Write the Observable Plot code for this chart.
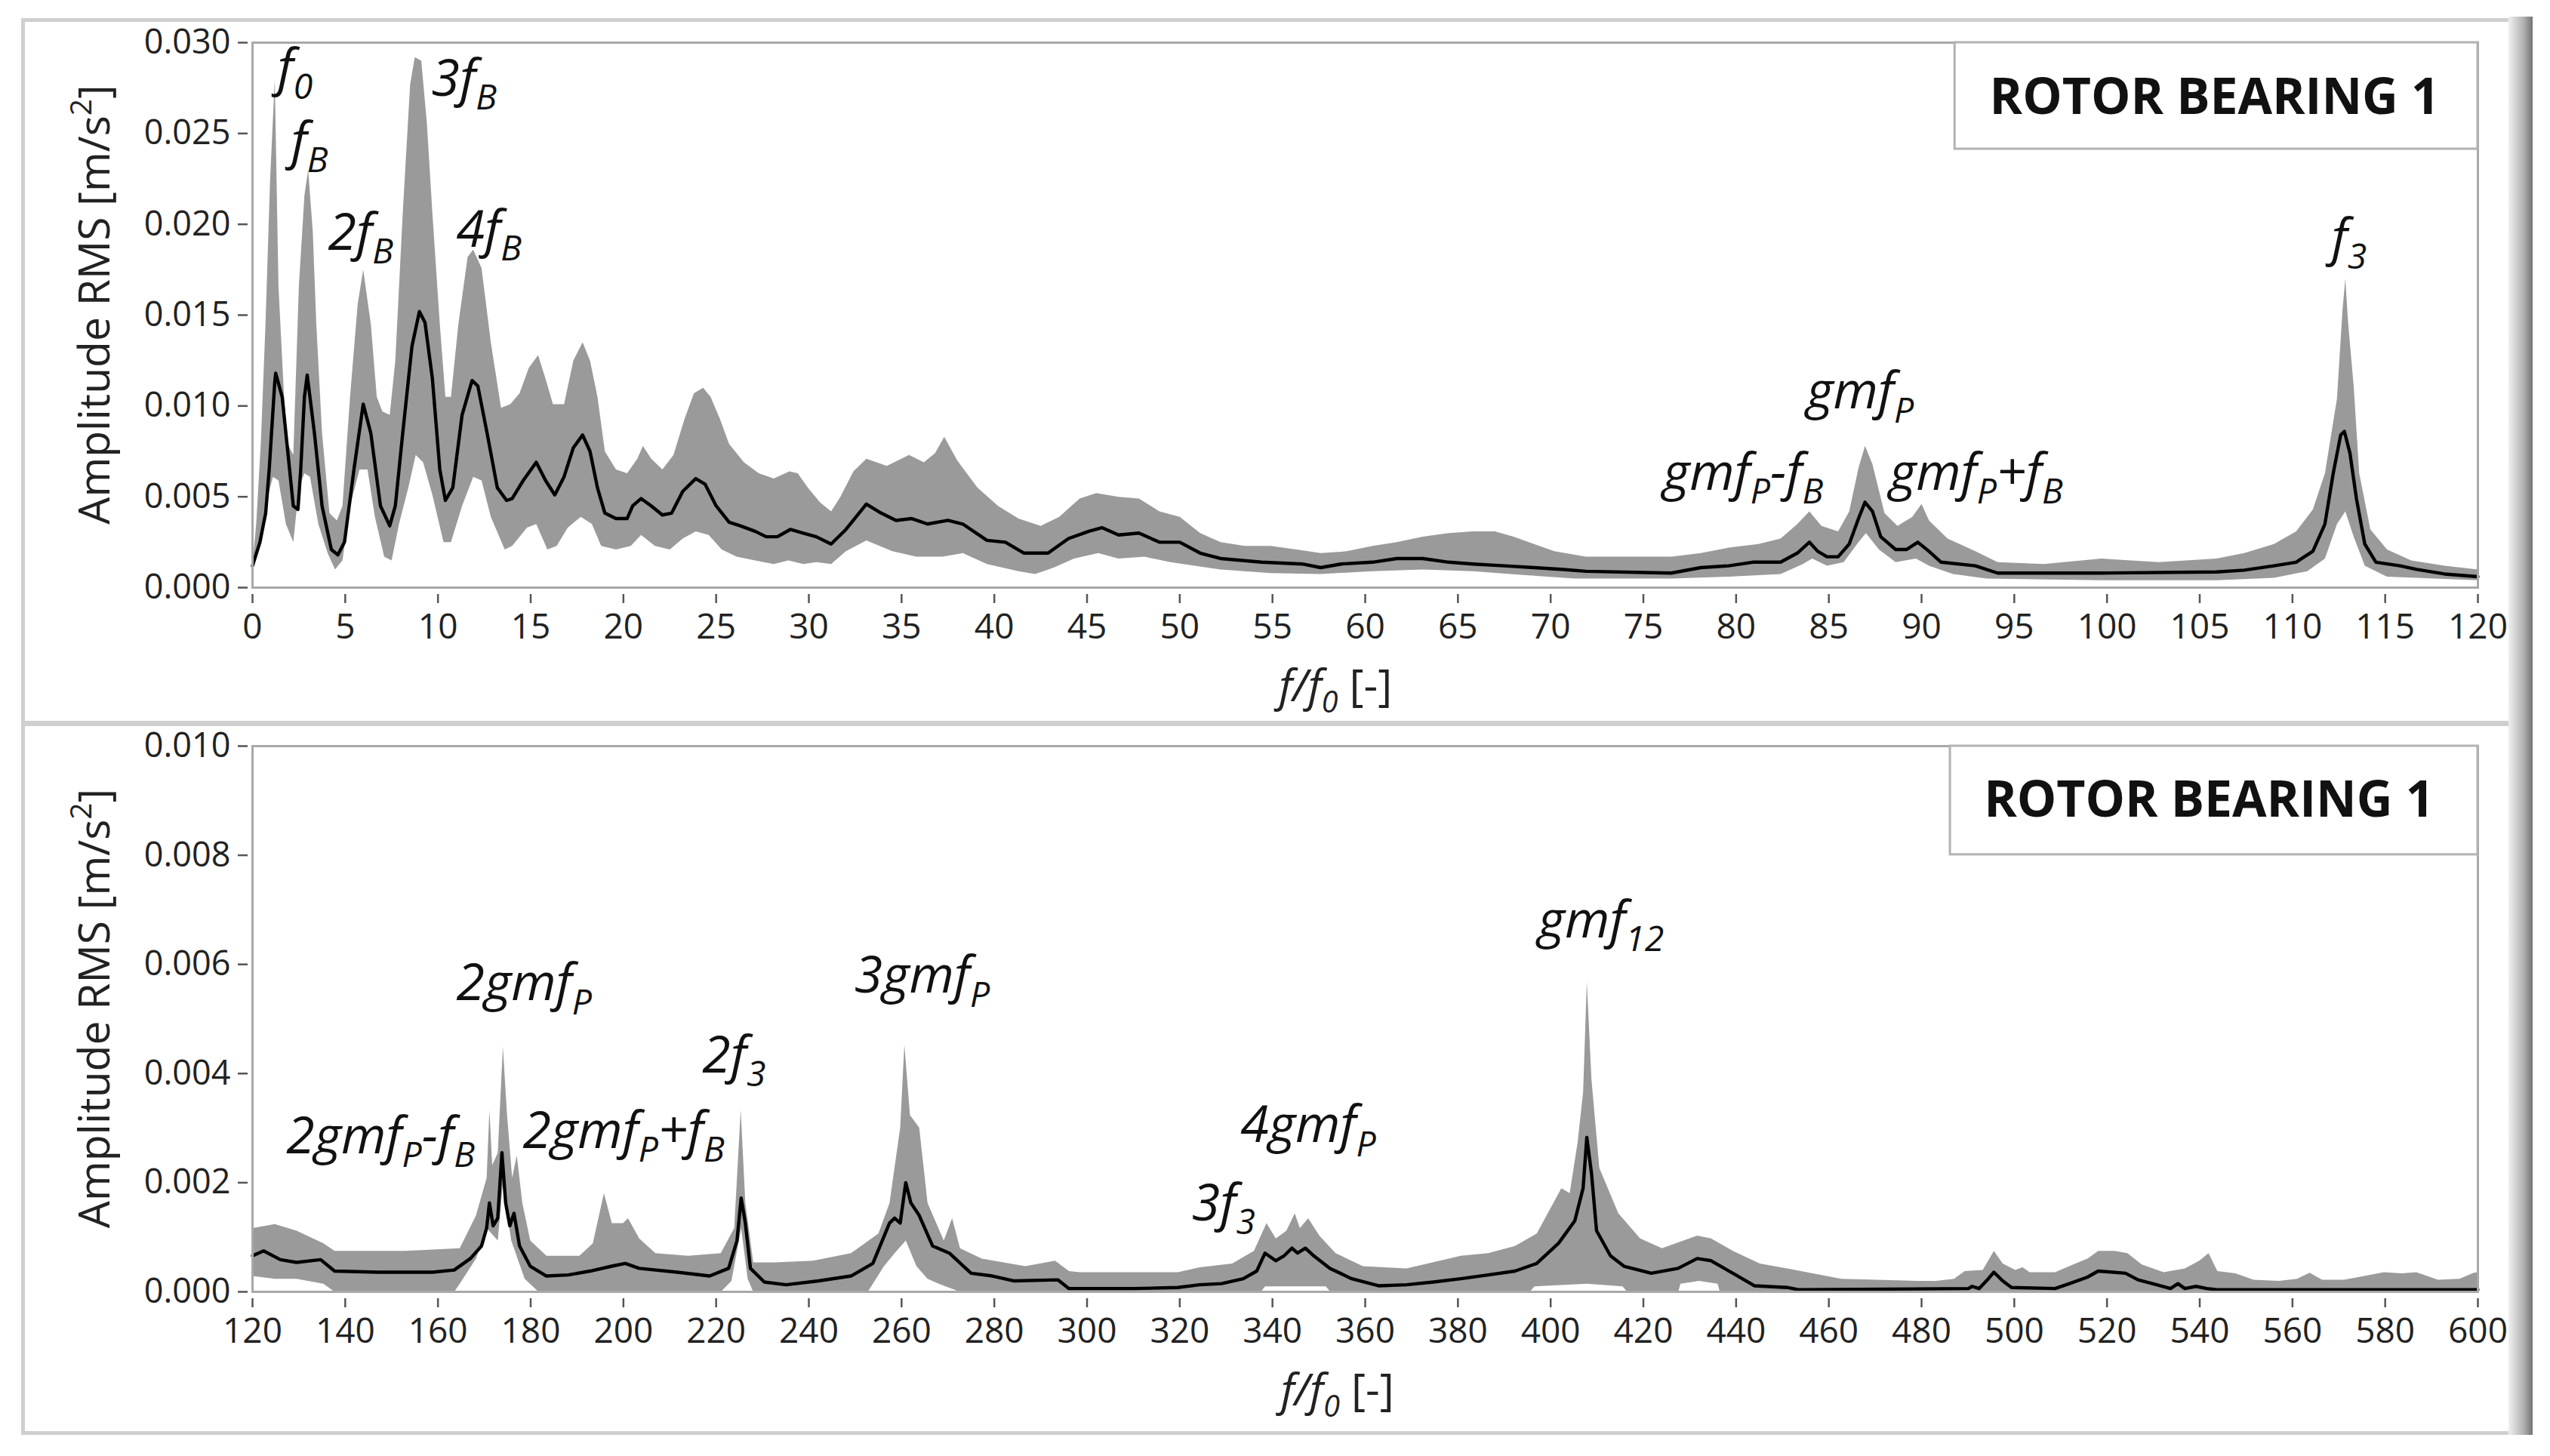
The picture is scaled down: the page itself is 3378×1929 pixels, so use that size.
<!DOCTYPE html>
<html>
<head>
<meta charset="utf-8">
<script src="https://cdn.jsdelivr.net/npm/d3@7"></script>
<script src="https://cdn.jsdelivr.net/npm/@observablehq/plot@0.6"></script>
<style>
  html, body { margin: 0; padding: 0; background: #fff; }
  #root { position: relative; width: 3378px; height: 1929px; overflow: hidden; background: #fff; font-family: "Open Sans", sans-serif; }
  .panel { position: absolute; box-sizing: border-box; border: 5px solid #cfcfcf; border-right: none; }
  .shadow { position: absolute; left: 3323px; top: 22px; width: 32px; height: 1879px;
            background: linear-gradient(to right, #f0f0f0, #b4b4b4 60%, #747474); }
  .chart { position: absolute; left: 0; }
</style>
</head>
<body>
<div id="root">
  <div class="panel" style="left:28px; top:24px; width:3300px; height:936px;"></div>
  <div class="panel" style="left:28px; top:957px; width:3300px; height:944px;"></div>
  <div class="shadow"></div>
  <div id="top" class="chart" style="top:0px;"></div>
  <div id="bottom" class="chart" style="top:950px;"></div>
</div>
<script>
// ---------------- DATA ----------------
// Top panel: f/f0 from 0 to 120
const topMeanF = [0,0.4,0.71,0.9,1.2,1.25,1.6,2.0,2.2,2.45,2.6,2.8,2.95,3.34,3.75,4.25,4.6,4.96,5.47,5.97,6.38,6.9,7.4,7.7,8.1,8.6,9.0,9.3,9.7,10.1,10.4,10.8,11.3,11.84,12.15,12.65,13.2,13.7,14.0,14.6,15.3,15.8,16.3,16.8,17.3,17.8,18.2,18.6,19.0,19.6,20.2,20.5,20.95,21.5,22.1,22.6,23.2,23.9,24.4,25.0,25.7,26.3,27.1,27.7,28.3,29.0,29.7,30.4,31.2,32.0,33.1,33.9,34.7,35.55,36.4,37.5,38.3,39.6,40.6,41.6,42.9,44.0,45.1,45.8,46.7,47.8,48.9,50.0,51.1,52.2,54.4,56.6,57.6,58.7,60.4,61.7,63.1,64.5,65.8,67.5,69.1,70.7,71.9,76.5,78.1,79.6,80.9,82.4,83.3,83.95,84.4,84.9,85.5,86.1,86.6,86.95,87.35,87.8,88.6,89.2,89.8,90.4,91.05,92.9,94.1,99.7,105.9,107.4,109.0,110.2,111.1,111.75,112.2,112.6,112.8,113.1,113.45,113.9,114.5,115.8,116.7,118.2,120];
const topMeanA = [0.0012,0.0025,0.0041,0.0065,0.0113,0.0118,0.0105,0.0065,0.0045,0.0043,0.0065,0.0105,0.0117,0.0085,0.0045,0.0021,0.0018,0.0025,0.0065,0.0101,0.0085,0.0045,0.0034,0.0045,0.0085,0.0133,0.0152,0.0146,0.0115,0.0065,0.0048,0.0055,0.0095,0.0114,0.0111,0.0085,0.0055,0.0048,0.0049,0.0059,0.0069,0.0059,0.0051,0.0061,0.0077,0.0084,0.0075,0.0055,0.0041,0.0038,0.0038,0.0045,0.0049,0.0045,0.004,0.0041,0.0053,0.006,0.0057,0.0045,0.0036,0.0034,0.0031,0.0028,0.0028,0.0032,0.003,0.0028,0.0024,0.0032,0.0046,0.0041,0.0037,0.0038,0.0035,0.0037,0.0035,0.0026,0.0025,0.0019,0.0019,0.0027,0.0031,0.0033,0.0029,0.003,0.0025,0.0025,0.0019,0.0016,0.0014,0.0013,0.0011,0.0013,0.0014,0.0016,0.0016,0.0014,0.0013,0.0012,0.0011,0.001,0.0009,0.0008,0.0011,0.0012,0.0014,0.0014,0.0019,0.0025,0.002,0.0017,0.0017,0.0024,0.0038,0.0047,0.0042,0.0028,0.0021,0.0021,0.0025,0.002,0.0014,0.0012,0.0008,0.0008,0.00086,0.00096,0.0012,0.0014,0.002,0.0035,0.0063,0.0084,0.0086,0.0074,0.0049,0.0024,0.0014,0.0012,0.001,0.00075,0.0006];

const topHiF = [0,0.2,0.45,0.7,0.95,1.2,1.4,1.7,1.9,2.2,2.5,2.8,3.0,3.25,3.44,3.75,4.15,4.55,4.85,5.26,5.67,5.97,6.38,6.7,7.0,7.4,7.7,8.1,8.5,8.75,9.1,9.4,9.7,10.1,10.4,10.7,11.1,11.6,11.9,12.35,12.85,13.4,13.9,14.4,14.9,15.4,15.8,16.2,16.8,17.3,17.8,18.2,18.6,19.0,19.6,20.2,20.75,21.05,21.5,22.1,22.7,23.3,23.8,24.3,24.7,25.2,25.7,26.5,27.3,28.1,28.95,29.4,29.95,30.6,31.2,31.7,32.4,33.1,34.2,35.4,36.2,36.8,37.3,38.0,39.1,40.2,41.3,42.5,43.5,44.6,45.5,46.7,47.8,48.9,50.0,51.1,52.2,53.5,54.9,56.3,57.6,59.0,60.4,61.7,63.1,64.5,65.8,67.0,68.0,69.1,70.2,71.9,76.5,78.1,79.6,81.2,82.4,83.3,83.95,84.6,85.5,86.1,86.6,86.95,87.35,88.0,88.7,89.5,90.0,90.4,91.4,92.9,94.1,96.6,99.7,102.8,105.9,107.4,109.0,110.2,111.1,111.75,112.4,112.7,112.85,113.0,113.3,113.6,114.2,115.1,116.4,118.2,120];
const topHiA = [0.0013,0.0035,0.008,0.0145,0.0225,0.028,0.0166,0.0105,0.0079,0.0073,0.0166,0.0216,0.023,0.0196,0.0145,0.0085,0.0041,0.0037,0.0045,0.0105,0.0156,0.0175,0.0145,0.0105,0.0097,0.0095,0.0125,0.0206,0.0277,0.0292,0.029,0.0256,0.0206,0.0145,0.0105,0.0105,0.0145,0.0182,0.0186,0.0176,0.0135,0.0099,0.0101,0.0107,0.0121,0.0128,0.0115,0.0101,0.0101,0.0125,0.0135,0.0125,0.0105,0.0075,0.0065,0.0063,0.0071,0.0078,0.0071,0.0065,0.0073,0.0093,0.0107,0.011,0.0105,0.0093,0.0079,0.0069,0.0063,0.006,0.0064,0.0063,0.0055,0.0047,0.0042,0.005,0.0064,0.0071,0.0067,0.0073,0.0069,0.0074,0.0083,0.007,0.0055,0.0045,0.0038,0.0034,0.0039,0.0049,0.0052,0.005,0.0049,0.0042,0.0039,0.003,0.0025,0.0023,0.0023,0.0021,0.0019,0.002,0.0023,0.0025,0.0028,0.003,0.0031,0.0031,0.0028,0.0024,0.002,0.0017,0.0017,0.0019,0.0022,0.0024,0.0027,0.0035,0.0042,0.0034,0.0031,0.0042,0.0066,0.0078,0.0068,0.0041,0.0034,0.0039,0.0046,0.0037,0.0027,0.002,0.0014,0.0013,0.0016,0.0014,0.0016,0.0019,0.0024,0.0031,0.0043,0.0063,0.0104,0.0153,0.017,0.0146,0.0111,0.0063,0.0032,0.0021,0.0015,0.0012,0.001];

const topLoF = [0,0.3,0.7,1.1,1.4,1.8,2.2,2.5,2.8,3.1,3.55,4.05,4.45,4.85,5.26,5.77,6.2,6.6,7.1,7.5,7.9,8.4,8.8,9.2,9.7,10.3,10.7,11.3,11.9,12.35,12.85,13.6,14.0,14.8,15.3,15.9,16.4,17.0,17.7,18.3,18.8,19.6,20.4,20.95,21.7,22.5,23.2,23.9,24.6,25.3,26.1,27.1,28.1,28.9,29.7,30.4,31.2,32.0,33.1,34.5,35.8,37.2,38.3,39.6,41.3,42.2,43.2,44.3,45.6,46.7,48.1,49.5,50.8,52.2,54.9,57.6,60.4,63.1,65.8,68.5,71.3,76.5,79.6,82.4,83.6,84.1,84.9,85.8,86.6,87.0,87.7,88.6,89.7,90.4,91.7,93.5,99.7,105.9,109.0,110.8,111.75,112.4,112.85,113.3,113.9,115.1,120];
const topLoA = [0.0011,0.002,0.0045,0.0061,0.0059,0.0035,0.0025,0.0055,0.0063,0.0061,0.0035,0.0019,0.001,0.0015,0.0045,0.0065,0.0065,0.0039,0.0017,0.0015,0.0035,0.0055,0.0073,0.0069,0.0051,0.0025,0.0025,0.0045,0.0061,0.0059,0.0039,0.0021,0.0023,0.0033,0.0035,0.0021,0.0023,0.0033,0.0039,0.0035,0.0023,0.0021,0.0023,0.0029,0.0023,0.0021,0.0027,0.0031,0.0029,0.0021,0.0017,0.0015,0.0013,0.0015,0.0013,0.0014,0.0013,0.002,0.0026,0.002,0.0017,0.0017,0.0019,0.0013,0.0009,0.00075,0.0011,0.0016,0.0019,0.0016,0.0017,0.0014,0.0012,0.001,0.0008,0.00075,0.0009,0.001,0.0009,0.0007,0.0005,0.0005,0.0006,0.00075,0.0013,0.0016,0.0012,0.0014,0.0025,0.003,0.0021,0.0014,0.0016,0.0012,0.00075,0.0005,0.0004,0.0004,0.00054,0.0009,0.0016,0.0035,0.0042,0.0028,0.0012,0.0006,0.0004];

// Bottom panel: f/f0 from 120 to 600
const botMeanF = [120,122.4,126.0,129.5,134.7,137.7,147.1,158.8,163.5,167.0,169.4,170.5,171.1,171.9,172.9,173.8,174.6,175.5,176.4,177.6,179.9,183.4,188.1,192.8,197.5,200.4,203.4,211.6,218.6,222.7,224.5,225.4,226.3,227.4,230.4,235.1,242.1,249.1,253.8,257.4,258.5,259.7,260.9,262.0,263.8,266.7,270.3,275.0,279.6,284.3,293.7,296.1,298.5,310.2,319.6,324.3,329.0,333.7,336.6,338.4,340.7,342.5,344.2,345.4,347.1,348.9,352.4,357.1,363.0,368.9,374.7,380.6,386.5,392.3,397.0,401.7,405.2,407.0,407.8,408.8,409.9,412.9,415.8,421.7,427.5,431.6,434.6,439.3,444.0,451.0,453.4,490.1,490.9,492.4,494.4,495.6,497.5,499.4,508.8,511.9,515.8,518.1,521.3,524.0,526.7,529.8,533.7,535.3,536.8,539.2,541.5,543.8,600];
const botMeanA = [0.00066,0.00075,0.00059,0.00054,0.00059,0.00038,0.00036,0.00036,0.0004,0.00061,0.00084,0.00117,0.00163,0.00121,0.00135,0.00255,0.00163,0.00121,0.00144,0.00084,0.00047,0.00029,0.00031,0.00038,0.00047,0.00052,0.00043,0.00036,0.00029,0.00043,0.00094,0.00172,0.00126,0.00043,0.00018,0.00013,0.0002,0.00029,0.00052,0.00126,0.00135,0.00126,0.002,0.00163,0.0014,0.00084,0.00071,0.00034,0.00029,0.0002,0.00022,0.00006,0.00006,0.00006,0.00008,0.00013,0.00015,0.00024,0.00038,0.00071,0.00057,0.00066,0.0008,0.00071,0.0008,0.00066,0.00043,0.00024,0.00011,0.00013,0.00018,0.00024,0.00031,0.00038,0.00052,0.00089,0.0013,0.0019,0.00283,0.00218,0.00112,0.00066,0.00047,0.00034,0.00043,0.00061,0.00057,0.00034,0.00011,0.00008,0.00004,0.00006,0.0001,0.00006,0.00024,0.00036,0.0002,0.00008,0.00006,0.00015,0.00027,0.00038,0.00036,0.00034,0.00022,0.00015,0.00006,0.00015,0.00006,0.0001,0.00006,0.00004,0.00004];

const botHiF = [120,124.8,129.5,135.3,137.7,152.9,164.7,168.2,170.5,171.1,171.7,172.9,174.0,174.9,176.0,177.0,178.2,179.9,183.4,190.5,193.4,195.8,197.5,199.9,201.0,203.4,206.9,214.0,221.0,223.9,225.3,226.3,228.0,232.7,240.9,249.1,255.0,257.4,259.7,260.6,261.8,263.8,265.6,269.1,270.9,272.6,277.3,286.7,293.1,296.1,298.5,319.6,324.3,331.3,336.0,338.7,340.7,343.0,344.8,345.9,347.7,350.1,353.6,359.5,368.9,380.6,386.5,392.3,397.0,402.3,404.1,405.8,407.0,407.8,408.8,410.5,414.6,419.3,424.0,431.6,434.6,439.3,445.1,451.0,462.7,479.2,483.1,487.0,489.3,493.2,495.6,497.5,500.2,501.8,503.3,508.8,512.7,515.8,518.1,521.6,524.4,527.5,532.2,536.8,539.9,541.9,543.8,547.7,551.6,557.1,561.0,563.7,566.4,571.1,574.2,579.7,583.6,586.7,591.4,596.0,599.1,600];
const botHiA = [0.00117,0.00124,0.00112,0.00089,0.00075,0.00075,0.0008,0.0014,0.00209,0.00333,0.00232,0.00255,0.00449,0.00324,0.00209,0.0025,0.00163,0.00094,0.00066,0.00066,0.00089,0.00181,0.00126,0.00126,0.00135,0.00098,0.00071,0.00066,0.00071,0.00117,0.00333,0.00163,0.00054,0.00054,0.00057,0.00071,0.00107,0.00163,0.00301,0.00453,0.00324,0.00301,0.00163,0.00094,0.00135,0.0008,0.00061,0.00047,0.00057,0.00038,0.00036,0.00036,0.00045,0.00052,0.00075,0.00126,0.00098,0.00112,0.00144,0.00117,0.00135,0.00103,0.00071,0.00047,0.00043,0.00066,0.00071,0.00084,0.00107,0.0019,0.00181,0.00273,0.00366,0.00568,0.00389,0.00227,0.00144,0.00098,0.0008,0.00103,0.00098,0.00075,0.00052,0.00043,0.00024,0.0002,0.0002,0.00024,0.00038,0.0004,0.00075,0.00052,0.0004,0.00045,0.00036,0.00036,0.0005,0.00061,0.00075,0.00075,0.00071,0.0005,0.00036,0.00043,0.00057,0.00071,0.00038,0.00034,0.00022,0.0002,0.00024,0.00035,0.00022,0.00022,0.00027,0.00036,0.00034,0.00036,0.00022,0.00024,0.00035,0.00036];

const botLoF = [120,124.8,129.5,135.3,137.7,163.5,164.7,168.2,170.5,172.9,174.0,175.8,178.7,181.7,221.0,223.3,225.4,226.8,228.0,252.7,256.2,258.5,260.9,263.2,265.6,268.0,272.6,337.5,338.4,351.5,352.5,395.5,396.5,407.8,415.5,416.5,427.5,428.0,432.0,436.0,436.5,600];
const botLoA = [0.00029,0.00024,0.00024,0.00015,0,0,0.00015,0.00061,0.00117,0.00094,0.002,0.00094,0.00024,0,0,0.0002,0.00117,0.00024,0,0,0.00047,0.00071,0.00094,0.00047,0.00024,0.00015,0,0,0.0001,0.0001,0,0,0.0001,0.00015,0.0001,0,0,0.00015,0.0002,0.00015,0,0];

// Tick values
const topXTicks = [0,5,10,15,20,25,30,35,40,45,50,55,60,65,70,75,80,85,90,95,100,105,110,115,120];
const topYTicks = [0,0.005,0.010,0.015,0.020,0.025,0.030];
const botXTicks = [120,140,160,180,200,220,240,260,280,300,320,340,360,380,400,420,440,460,480,500,520,540,560,580,600];
const botYTicks = [0,0.002,0.004,0.006,0.008,0.010];

// Peak annotations (anchor: left end, baseline, in data units)
const topLabels = ["f_{0}","f_{B}","2f_{B}","3f_{B}","4f_{B}","gmf_{P}-f_{B}","gmf_{P}","gmf_{P}+f_{B}","f_{3}"];
const topLabelF = [1.34,2.08,4.07,9.65,10.99,76.06,83.8,88.27,112.1];
const topLabelA = [0.02767,0.02364,0.01861,0.02709,0.01878,0.0054,0.00985,0.0054,0.01832];
const botLabels = ["2gmf_{P}-f_{B}","2gmf_{P}","2gmf_{P}+f_{B}","2f_{3}","3gmf_{P}","3f_{3}","4gmf_{P}","gmf_{12}"];
const botLabelF = [127.3,163.96,178.3,217.0,249.8,322.6,333.1,397.3];
const botLabelA = [0.00254,0.00534,0.00264,0.00402,0.00548,0.00131,0.00274,0.0065];

const legendText = "ROTOR BEARING 1";
const yLabel = "Amplitude RMS [m/s^{2}]";
const xLabel = "f/f_{0}~{ [-]}";

// ---------------- BUILD ----------------
const pts = (F, A) => F.map((f, i) => ({x: f, y: A[i]}));
const band = (hiF, hiA, loF, loA) => pts(hiF, hiA).concat(pts(loF, loA).reverse());

const BAND = "#9a9a9a";
const FRAME = "#a8a8a8";

function panel({xDomain, yDomain, xTicks, yTicks, mean, bandPts, labels, box, legendAt, xLabelAt, height, mt, mb}) {
  return Plot.plot({
    width: 3378, height,
    marginLeft: 334, marginRight: 96, marginTop: mt, marginBottom: mb,
    style: {background: "transparent", overflow: "visible", fontFamily: "'Open Sans', sans-serif", color: "#222"},
    x: {domain: xDomain},
    y: {domain: yDomain},
    marks: [
      Plot.line(bandPts, {x: "x", y: "y", fill: BAND, stroke: "none"}),
      Plot.line(mean, {x: "x", y: "y", stroke: "#000", strokeWidth: 4.4, strokeLinejoin: "round"}),
      Plot.frame({stroke: FRAME, strokeWidth: 3}),
      Plot.axisX({ticks: xTicks, tickSize: 12, dy: 9, tickPadding: 14, fontSize: 46, label: null, stroke: "#555", fill: "#222", strokeWidth: 2.5}),
      Plot.axisY({ticks: yTicks, tickSize: 13, dx: -6, tickPadding: 10, fontSize: 45, label: null, tickFormat: d3.format(".3f"), stroke: "#555", fill: "#222", strokeWidth: 2.5}),
      Plot.rect([box], {x1: "x1", x2: "x2", y1: "y1", y2: "y2", fill: "#fff", stroke: "#b2b2b2", strokeWidth: 3}),
      Plot.text([legendAt], {x: "x", y: "y", text: () => legendText, textAnchor: "middle", lineAnchor: "bottom", fontSize: 66, fontWeight: "bold", fill: "#111"}),
      Plot.text(labels, {x: "x", y: "y", text: "t", textAnchor: "start", lineAnchor: "bottom", fontSize: 68, fontStyle: "italic", fill: "#111"}),
      Plot.text([xLabelAt], {x: "x", frameAnchor: "bottom", dy: 150, text: () => xLabel, textAnchor: "middle", lineAnchor: "bottom", fontSize: 58, fontStyle: "italic", fill: "#222"}),
      Plot.text([0], {frameAnchor: "left", dx: -208, dy: -14, rotate: -90, text: () => yLabel, textAnchor: "middle", lineAnchor: "middle", fontSize: 57, fill: "#222"})
    ]
  });
}

const topChart = panel({
  xDomain: [0, 120], yDomain: [0, 0.030],
  xTicks: topXTicks, yTicks: topYTicks,
  mean: pts(topMeanF, topMeanA),
  bandPts: band(topHiF, topHiA, topLoF, topLoA),
  labels: topLabels.map((t, i) => ({t, x: topLabelF[i], y: topLabelA[i]})),
  box: {x1: 91.8, x2: 120, y1: 0.02414, y2: 0.030},
  legendAt: {x: 105.8, y: 0.02609},
  xLabelAt: {x: 58.4},
  height: 940, mt: 56, mb: 162
});
const botChart = panel({
  xDomain: [120, 600], yDomain: [0, 0.010],
  xTicks: botXTicks, yTicks: botYTicks,
  mean: pts(botMeanF, botMeanA),
  bandPts: band(botHiF, botHiA, botLoF, botLoA),
  labels: botLabels.map((t, i) => ({t, x: botLabelF[i], y: botLabelA[i]})),
  box: {x1: 486.2, x2: 600, y1: 0.00801, y2: 0.010},
  legendAt: {x: 542.0, y: 0.0087},
  xLabelAt: {x: 354.0},
  height: 960, mt: 38, mb: 199
});

document.getElementById("top").appendChild(topChart);
document.getElementById("bottom").appendChild(botChart);

// Rich text: _{sub}, ^{sup}, ~{upright}
function richify(svg) {
  const NS = "http://www.w3.org/2000/svg";
  for (const t of svg.querySelectorAll("text")) {
    const s = t.textContent;
    if (!/[_^~]\{/.test(s)) continue;
    const fs = parseFloat(getComputedStyle(t).fontSize) || 50;
    const parts = s.split(/([_^~]\{[^}]*\})/).filter(p => p.length);
    t.textContent = "";
    let shift = 0;
    for (const p of parts) {
      const ts = document.createElementNS(NS, "tspan");
      let target = 0, size = null, upright = false, txt = p;
      if (p.startsWith("_{")) { target = 0.27 * fs; size = 0.68 * fs; txt = p.slice(2, -1); }
      else if (p.startsWith("^{")) { target = -0.42 * fs; size = 0.68 * fs; txt = p.slice(2, -1); }
      else if (p.startsWith("~{")) { upright = true; txt = p.slice(2, -1); }
      const d = target - shift;
      if (d) ts.setAttribute("dy", d.toFixed(2));
      shift = target;
      if (size) ts.setAttribute("font-size", size.toFixed(2));
      if (upright) ts.setAttribute("font-style", "normal");
      ts.setAttribute("xml:space", "preserve");
      ts.textContent = txt;
      t.appendChild(ts);
    }
  }
}
richify(topChart);
richify(botChart);
</script>
</body>
</html>
